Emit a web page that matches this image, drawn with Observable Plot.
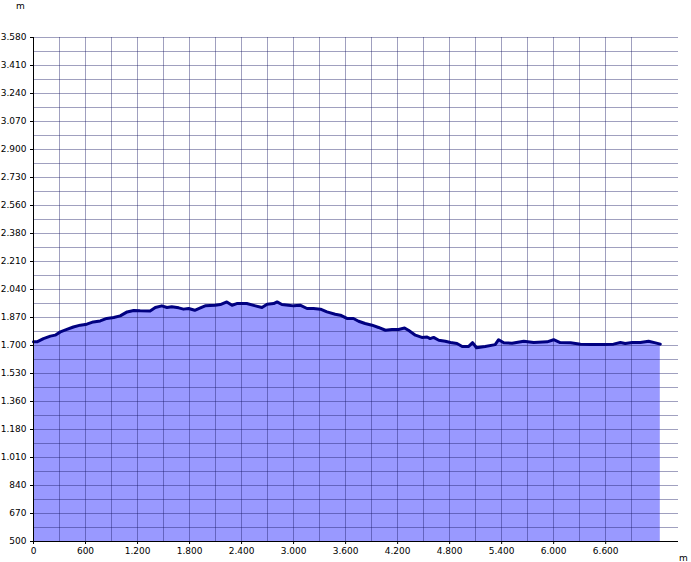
<!DOCTYPE html>
<html><head><meta charset="utf-8">
<script src="https://cdn.jsdelivr.net/npm/d3@7"></script>
<script src="https://cdn.jsdelivr.net/npm/@observablehq/plot@0.6"></script>
<style>
html,body{margin:0;padding:0;background:#fff;overflow:hidden;}
#chart{width:691px;height:562px;overflow:hidden;}
#chart svg{display:block;}
</style></head><body><div id="chart"></div>
<script>
const distance = [0,40,115,195,250,310,385,460,540,615,
690,770,845,925,1000,1080,1155,1230,1345,1405,
1480,1540,1595,1675,1730,1790,1860,1925,1980,2095,
2155,2230,2290,2345,2460,2560,2635,2695,2770,2810,
2865,2940,3000,3075,3155,3230,3310,3385,3480,3540,
3615,3690,3750,3825,3905,3980,4060,4135,4210,4280,
4325,4405,4480,4540,4575,4615,4675,4750,4810,4885,
4945,5020,5065,5110,5210,5325,5365,5425,5520,5655,
5770,5925,6000,6075,6195,6310,6425,6575,6690,6770,
6825,6905,7000,7095,7175,7230];
const elevation = [1720,1720,1740,1755,1761,1781,1796,1811,1822,1828,
1842,1848,1863,1869,1879,1903,1912,1910,1909,1930,
1940,1930,1934,1928,1920,1924,1913,1928,1940,1944,
1948,1964,1944,1954,1954,1940,1930,1950,1954,1964,
1948,1944,1940,1944,1924,1924,1920,1903,1889,1883,
1863,1863,1846,1832,1822,1808,1791,1796,1796,1805,
1791,1761,1747,1750,1740,1747,1730,1724,1716,1710,
1692,1692,1715,1684,1692,1703,1733,1715,1712,1724,
1716,1720,1733,1716,1714,1706,1704,1704,1706,1716,
1710,1716,1716,1724,1714,1706];
const yTickLabels = [500,670,840,1010,1180,1360,1530,1700,1870,2040,2210,2380,2560,2730,2900,3070,3240,3410,3580];
const xTickLabels = [0,600,1200,1800,2400,3000,3600,4200,4800,5400,6000,6600];
const xGridStep = 300;
const xGridMax = 6900;
const xMax = 7440;
const unitLabel = "m";

const data = distance.map((d, i) => ({d, e: elevation[i]}));
const fmt = d3.formatLocale({decimal: ",", thousands: ".", grouping: [3], currency: ["", ""]}).format(",");
const yMin = yTickLabels[0], yMaxV = yTickLabels[yTickLabels.length - 1];
const yStep = (yMaxV - yMin) / (yTickLabels.length - 1);
const yTickPos = yTickLabels.map((_, i) => yMin + i * yStep);
const yLabelMap = new Map(yTickPos.map((p, i) => [p, yTickLabels[i]]));
const yGridPos = d3.range(0, 2 * (yTickLabels.length - 1) + 1).map(i => yMin + i * yStep / 2);
const xGridPos = d3.range(0, xGridMax + 1, xGridStep);
// translucent grid stroke: grey over white, blue-violet over the area fill
const gridStroke = "rgb(24,24,100)";
const gridAlpha = 0.41;

const chart = Plot.plot({
  width: 691, height: 562,
  marginLeft: 33, marginRight: 13, marginTop: 37, marginBottom: 21,
  x: {domain: [0, xMax]},
  y: {domain: [yMin, yMaxV]},
  style: {fontFamily: "'DejaVu Sans', sans-serif", fontSize: "9px", color: "#000", background: "#fff"},
  marks: [
    Plot.areaY(data, {x: "d", y1: yMin, y2: "e", fill: "#9999ff"}),
    Plot.gridY(yGridPos, {stroke: gridStroke, strokeOpacity: gridAlpha, shapeRendering: "crispEdges"}),
    Plot.gridX(xGridPos, {stroke: gridStroke, strokeOpacity: gridAlpha, shapeRendering: "crispEdges"}),
    Plot.lineY(data, {x: "d", y: "e", stroke: "#000080", strokeWidth: 3, strokeLinejoin: "round", strokeLinecap: "round"}),
    Plot.ruleX([0], {stroke: "#000"}),
    Plot.ruleY([yMin], {stroke: "#000"}),
    Plot.axisY({ticks: yTickPos, tickFormat: d => fmt(yLabelMap.get(d)), tickSize: 3, tickPadding: 4, label: null}),
    Plot.axisX({ticks: xTickLabels, tickFormat: d => fmt(d), tickSize: 3, tickPadding: 3, label: null}),
    Plot.text([unitLabel], {frameAnchor: "top-left", dx: -13, dy: -31, textAnchor: "middle", lineAnchor: "middle"}),
    Plot.text([unitLabel], {frameAnchor: "bottom-right", dx: 5, dy: 17, textAnchor: "middle", lineAnchor: "middle"})
  ]
});
document.getElementById("chart").append(chart);
</script>
</body></html>
